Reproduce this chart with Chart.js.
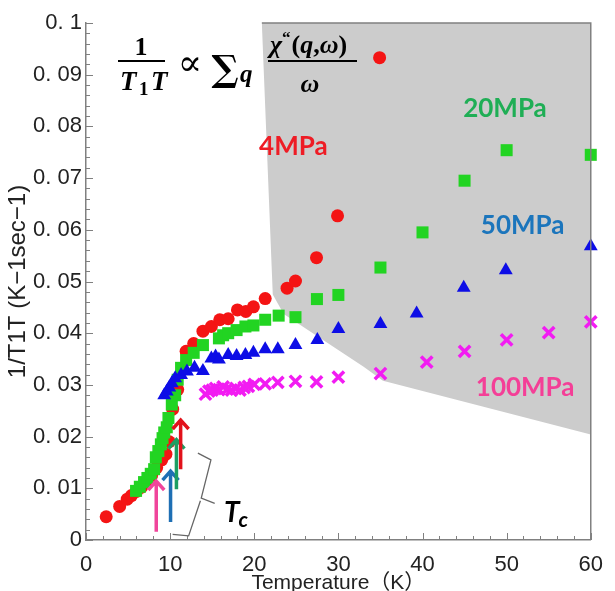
<!DOCTYPE html>
<html>
<head>
<meta charset="utf-8">
<script src="https://cdn.jsdelivr.net/npm/chart.js@4.4.1/dist/chart.umd.min.js"></script>
<style>
  html, body { margin: 0; padding: 0; background: #fff; }
</style>
</head>
<body>
<canvas id="t1t-chart" width="615" height="591"></canvas>
<script>
const xTickLabels = ["0", "10", "20", "30", "40", "50", "60"];
const yTickLabels = ["0", "0. 01", "0. 02", "0. 03", "0. 04", "0. 05", "0. 06", "0. 07", "0. 08", "0. 09", "0. 1"];

// 4MPa
const temp4 = [2.4, 4.0, 4.9, 5.4, 6.0, 6.6, 7.2, 7.8, 8.4, 9.0, 9.5, 9.9, 10.3, 10.9, 11.9, 12.8, 13.9, 14.9, 15.9, 16.9, 18.0, 19.0, 19.9, 21.3, 23.9, 24.9, 27.4, 29.9, 34.9];
const rate4 = [0.0045, 0.0065, 0.0079, 0.0086, 0.0094, 0.0102, 0.0112, 0.0125, 0.0140, 0.0155, 0.0166, 0.0190, 0.0253, 0.0291, 0.0365, 0.0380, 0.0404, 0.0413, 0.0426, 0.0428, 0.0445, 0.0442, 0.0451, 0.0467, 0.0487, 0.0501, 0.0546, 0.0627, 0.0933];
// 20MPa
const temp20 = [5.95, 6.4, 6.9, 7.3, 7.7, 8.1, 8.3, 8.6, 8.9, 9.1, 9.3, 9.6, 9.8, 10.2, 10.6, 10.9, 11.3, 11.9, 12.8, 13.9, 15.8, 16.3, 16.9, 17.9, 18.95, 19.9, 21.3, 22.9, 24.9, 27.45, 30.0, 35.0, 40.0, 45.0, 50.0, 60.0];
const rate20 = [0.0095, 0.0103, 0.0112, 0.0120, 0.0128, 0.0137, 0.0160, 0.0172, 0.0185, 0.0197, 0.0208, 0.0218, 0.0236, 0.0262, 0.0280, 0.0310, 0.0333, 0.0348, 0.0362, 0.0377, 0.0390, 0.0396, 0.0400, 0.0406, 0.0413, 0.0415, 0.0426, 0.0434, 0.0431, 0.0466, 0.0474, 0.0527, 0.0595, 0.0695, 0.0754, 0.0745];
// 50MPa
const temp50 = [9.3, 9.6, 9.9, 10.2, 10.6, 11.3, 12.0, 12.9, 13.9, 14.9, 15.4, 15.8, 16.9, 17.9, 18.95, 19.9, 21.3, 22.8, 24.9, 27.5, 30.0, 35.0, 39.3, 44.9, 49.9, 60.0];
const rate50 = [0.0280, 0.0287, 0.0295, 0.0303, 0.0313, 0.0319, 0.0326, 0.0333, 0.0327, 0.0351, 0.0355, 0.0349, 0.0358, 0.0356, 0.0358, 0.0362, 0.0369, 0.0369, 0.0377, 0.0387, 0.0408, 0.0418, 0.0438, 0.0488, 0.0522, 0.0568];
// 100MPa
const temp100 = [14.2, 14.6, 15.0, 15.4, 15.8, 16.3, 16.8, 17.3, 17.8, 18.3, 18.8, 19.3, 20.0, 21.3, 22.8, 24.9, 27.4, 30.0, 35.0, 40.5, 45.0, 50.0, 55.0, 60.0];
const rate100 = [0.0282, 0.0288, 0.0290, 0.0293, 0.0291, 0.0296, 0.0292, 0.0290, 0.0293, 0.0290, 0.0295, 0.0297, 0.0301, 0.0302, 0.0305, 0.0307, 0.0306, 0.0315, 0.0322, 0.0344, 0.0365, 0.0387, 0.0401, 0.0422];

// shaded region boundary
const shadeTemp = [20.9, 22.2, 23.5, 33.0, 35.3, 60];
const shadeRate = [0.1, 0.0475, 0.0437, 0.0335, 0.0308, 0.0204];

// Tc arrows (temperature, from, to)
const tcTemp = [8.35, 10.05, 10.75, 11.25];
const tcFrom = [0.0016, 0.0035, 0.0098, 0.0137];
const tcTo = [0.0116, 0.0135, 0.0196, 0.0234];
const tcColors = ["#f0459b", "#1e6fb4", "#1c9e62", "#e2121b"];

const toPoints = (xs, ys) => xs.map((t, i) => ({ x: t, y: ys[i] }));

const tickFont = { family: '"Liberation Sans", Arial, sans-serif', size: 22 };

const decor = {
  id: "decor",
  afterDraw(chart) {
    const { ctx, chartArea: a, scales: { x, y } } = chart;
    const px = (t) => x.getPixelForValue(t);
    const py = (v) => y.getPixelForValue(v);
    ctx.save();

    // top/right frame
    ctx.strokeStyle = "#808080";
    ctx.lineWidth = 1.5;
    ctx.beginPath();
    ctx.moveTo(px(shadeTemp[0]), a.top);
    ctx.lineTo(a.right, a.top);
    ctx.lineTo(a.right, a.bottom);
    ctx.stroke();

    // inward ticks
    ctx.lineWidth = 1;
    ctx.beginPath();
    for (let i = 0; i <= 30; i++) {
      const len = i % 5 === 0 ? 7 : 4;
      const xx = Math.round(px(i * 2)) + 0.5;
      ctx.moveTo(xx, a.bottom);
      ctx.lineTo(xx, a.bottom - len);
    }
    for (let i = 0; i <= 50; i++) {
      const len = i % 5 === 0 ? 7 : 4;
      const yy = Math.round(py(i * 0.002)) + 0.5;
      ctx.moveTo(a.left, yy);
      ctx.lineTo(a.left + len, yy);
    }
    ctx.stroke();

    // Tc arrows
    ctx.lineWidth = 3.5;
    ctx.lineJoin = "miter";
    tcTemp.forEach((t, i) => {
      const xx = px(t), y0 = py(tcFrom[i]), y1 = py(tcTo[i]);
      ctx.strokeStyle = tcColors[i];
      ctx.beginPath();
      ctx.moveTo(xx, y0);
      ctx.lineTo(xx, y1 + 1);
      ctx.moveTo(xx - 8, y1 + 10);
      ctx.lineTo(xx, y1 + 1);
      ctx.lineTo(xx + 8, y1 + 10);
      ctx.stroke();
    });

    // brace
    ctx.strokeStyle = "#666";
    ctx.lineWidth = 1.3;
    ctx.beginPath();
    ctx.moveTo(px(13.3), py(0.0168));
    ctx.lineTo(px(14.85), py(0.0155));
    ctx.lineTo(px(13.7), py(0.0081));
    ctx.lineTo(px(15.3), py(0.0071));
    ctx.moveTo(px(13.6), py(0.0076));
    ctx.lineTo(px(12.2), py(0.0008));
    ctx.lineTo(px(10.3), py(0.0011));
    ctx.stroke();

    // Tc label
    ctx.fillStyle = "#000";
    ctx.textBaseline = "alphabetic";
    ctx.textAlign = "left";
    ctx.font = "italic bold 28px Lato, sans-serif";
    const tx = px(16.4), ty = py(0.0035);
    ctx.fillText("T", tx, ty);
    const tw = ctx.measureText("T").width;
    ctx.font = "italic bold 21px Lato, sans-serif";
    ctx.fillText("c", tx + tw - 1, ty + 5);

    // pressure labels
    ctx.textAlign = "center";
    ctx.textBaseline = "middle";
    ctx.font = "bold 26px Lato, sans-serif";
    [["4MPa", 24.65, 0.0760, "#ee1c25"], ["20MPa", 49.8, 0.0834, "#1fae55"],
     ["50MPa", 51.9, 0.0609, "#1b75bc"], ["100MPa", 52.2, 0.0294, "#f43f97"]].forEach(([s, t, v, c]) => {
      ctx.fillStyle = c;
      ctx.fillText(s, px(t), py(v));
    });

    // formula
    ctx.fillStyle = "#000";
    ctx.strokeStyle = "#000";
    ctx.lineWidth = 2;
    ctx.textBaseline = "alphabetic";
    ctx.textAlign = "center";
    const serif = '"Liberation Serif", "DejaVu Serif", serif';
    ctx.font = "bold 26px " + serif;
    ctx.fillText("1", 141, 55);
    ctx.beginPath();
    ctx.moveTo(118, 61); ctx.lineTo(165, 61);
    ctx.moveTo(268, 61); ctx.lineTo(357, 61);
    ctx.stroke();
    ctx.textAlign = "left";
    ctx.font = "italic bold 27px " + serif;
    ctx.fillText("T", 120, 90);
    ctx.font = "bold 19px " + serif;
    ctx.fillText("1", 139, 95);
    ctx.font = "italic bold 27px " + serif;
    ctx.fillText("T", 151, 90);
    ctx.textAlign = "center";
    ctx.textBaseline = "middle";
    ctx.font = '36px "DejaVu Serif", serif';
    ctx.fillText("∝", 190, 66);
    ctx.font = 'bold 36px "DejaVu Serif", serif';
    ctx.fillText("∑", 225, 72);
    ctx.textAlign = "left";
    ctx.textBaseline = "alphabetic";
    ctx.font = "italic bold 25px " + serif;
    ctx.fillText("q", 240, 82);
    ctx.font = "italic bold 26px " + serif;
    let cx = 270;
    ctx.fillText("χ", cx, 53); cx += ctx.measureText("χ").width;
    ctx.font = "bold 17px " + serif;
    ctx.fillText("\u201C", cx, 43); cx += ctx.measureText("\u201C").width + 1;
    ctx.font = "bold 26px " + serif;
    ctx.fillText("(", cx, 53); cx += ctx.measureText("(").width;
    ctx.font = "italic bold 26px " + serif;
    ctx.fillText("q", cx, 53); cx += ctx.measureText("q").width;
    ctx.font = "bold 26px " + serif;
    ctx.fillText(",", cx, 53); cx += ctx.measureText(",").width;
    ctx.font = "italic bold 26px " + serif;
    ctx.fillText("ω", cx, 53); cx += ctx.measureText("ω").width;
    ctx.font = "bold 26px " + serif;
    ctx.fillText(")", cx, 53);
    ctx.textAlign = "center";
    ctx.font = "italic bold 26px " + serif;
    ctx.fillText("ω", 310, 92);

    ctx.restore();
  },
};

const ctx = document.getElementById("t1t-chart");
new Chart(ctx, {
  type: "scatter",
  data: {
    datasets: [
      {
        label: "50MPa",
        data: toPoints(temp50, rate50),
        pointStyle: "triangle",
        pointRadius: 8,
        backgroundColor: "#0d0de6",
        borderWidth: 0,
        clip: false,
        order: 1,
      },
      {
        label: "20MPa",
        data: toPoints(temp20, rate20),
        pointStyle: "rect",
        pointRadius: 8.5,
        backgroundColor: "#22d422",
        borderWidth: 0,
        clip: false,
        order: 2,
      },
      {
        label: "4MPa",
        data: toPoints(temp4, rate4),
        pointStyle: "circle",
        pointRadius: 6.5,
        backgroundColor: "#f41414",
        borderWidth: 0,
        clip: false,
        order: 3,
      },
      {
        label: "100MPa",
        data: toPoints(temp100, rate100),
        pointStyle: "crossRot",
        pointRadius: 8,
        borderColor: "#f21cf2",
        backgroundColor: "#f21cf2",
        borderWidth: 3.5,
        clip: false,
        order: 4,
      },
      {
        type: "line",
        label: "shade",
        data: toPoints(shadeTemp, shadeRate),
        borderWidth: 0,
        pointRadius: 0,
        fill: "end",
        backgroundColor: "#cccccc",
        order: 10,
      },
    ],
  },
  options: {
    responsive: false,
    animation: false,
    events: [],
    layout: { padding: { top: 23, right: 12, left: 0, bottom: 0 } },
    plugins: {
      legend: { display: false },
      tooltip: { enabled: false },
    },
    scales: {
      x: {
        type: "linear",
        min: 0,
        max: 60,
        afterFit: (s) => { s.height = 51; },
        grid: { display: false, drawTicks: false },
        border: { color: "#808080", width: 1.5 },
        ticks: {
          stepSize: 10,
          padding: 12,
          color: "#222",
          font: tickFont,
          maxRotation: 0,
          callback: (v) => xTickLabels[Math.round(v / 10)],
        },
        title: {
          display: true,
          text: "Temperature（K）",
          color: "#222",
          font: { family: '"Liberation Sans", "Noto Sans CJK JP", sans-serif', size: 21, lineHeight: 1.2 },
          padding: { top: 0, bottom: -5 },
        },
      },
      y: {
        type: "linear",
        min: 0,
        max: 0.1,
        afterFit: (s) => { s.width = 86; },
        grid: { display: false, drawTicks: false },
        border: { color: "#808080", width: 1.5 },
        ticks: {
          stepSize: 0.01,
          padding: 4,
          color: "#222",
          font: tickFont,
          callback: (v) => yTickLabels[Math.round(v / 0.01)],
        },
        title: {
          display: true,
          text: "1/T1T (K−1sec−1)",
          color: "#222",
          font: { family: '"Liberation Sans", sans-serif', size: 24, lineHeight: 1.2 },
          padding: { top: 4, bottom: 0 },
        },
      },
    },
  },
  plugins: [decor],
});
</script>
</body>
</html>
